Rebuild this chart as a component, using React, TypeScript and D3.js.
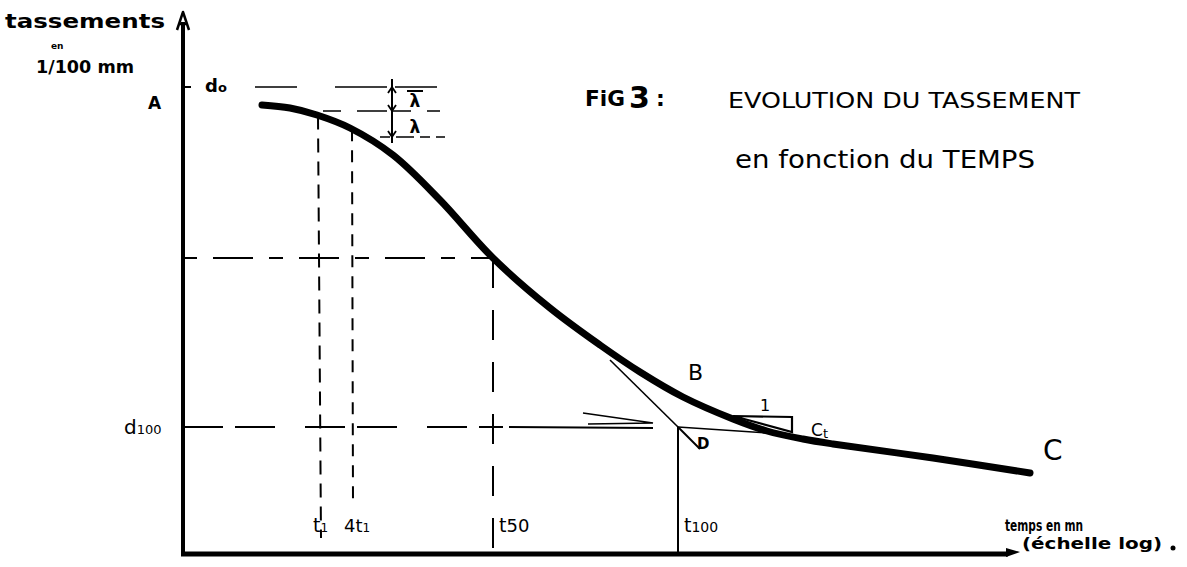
import React from "react";
import * as d3 from "d3";

const W = 1187;
const H = 567;

// Consolidation curve: position along the log-time axis and settlement reading (1/100 mm)
const curveT = [0.79, 1.07, 1.34, 1.67, 2.1, 2.57, 3.1, 3.67, 4.17, 4.57, 5.0, 5.5, 5.84, 6.2, 6.5, 7.5, 8.47];
const curveD = [449, 446, 439, 426, 399, 354, 296, 246, 209, 182, 157, 135, 123, 115, 110, 96, 81];

// Characteristic times on the log axis
const timeKeys = ["t1", "4t1", "t50", "t100"];
const timeVals = [1.35, 1.69, 3.1, 4.95];

// Characteristic settlements
const D0 = 467;
const DT1 = 443;
const DT4 = 417;
const D50 = 296;
const D100 = 127;

// Tangents used to locate D (end of primary consolidation)
const steepTangent: [number, number][] = [
  [4.27, 194],
  [4.95, 127],
];
const flatTangent: [number, number][] = [
  [4.95, 127],
  [5.85, 121],
];
// Slope triangle for the secondary compression coefficient
const slopeTri: [number, number][] = [
  [5.5, 138],
  [6.09, 137],
  [6.09, 122],
];

const FONT = "'DejaVu Sans', sans-serif";

export default function App() {
  const x = d3.scaleLinear().domain([0, 8.4]).range([183, 1023]);
  const y = d3.scaleLinear().domain([0, 540]).range([554, 14]);

  const pts: [number, number][] = curveT.map((t, i) => [t, curveD[i]]);
  const curvePath = d3
    .line<[number, number]>()
    .x((d) => x(d[0]))
    .y((d) => y(d[1]))
    .curve(d3.curveCatmullRom.alpha(0.5))(pts) as string;

  const seg = d3
    .line<[number, number]>()
    .x((d) => x(d[0]))
    .y((d) => y(d[1]));

  const [t1, t4, t50, t100] = timeVals;
  const interpD = (t: number) => {
    const s = d3.scaleLinear().domain(curveT).range(curveD);
    return s(t);
  };

  const axisX0 = x(0);
  const axisY0 = y(0);
  const lamX = x(2.09);

  return (
    <svg
      width={W}
      height={H}
      style={{ position: "fixed", left: 0, top: 0, background: "#fff" }}
      fontFamily={FONT}
    >
      <rect width={W} height={H} fill="#fff" />

      {/* axes */}
      <line x1={axisX0} y1={axisY0 + 2} x2={axisX0} y2={22} stroke="#000" strokeWidth={4} />
      <path
        d={`M${axisX0 - 6},30 L${axisX0},12 L${axisX0 + 6},30 M${axisX0 - 4},24 L${axisX0 + 4},24`}
        fill="none"
        stroke="#000"
        strokeWidth={2.5}
        strokeLinejoin="round"
      />
      <line x1={axisX0 - 2} y1={axisY0} x2={1008} y2={axisY0} stroke="#000" strokeWidth={5} />
      <path d={`M1006,${axisY0 - 6} L1020,${axisY0 - 2} L1006,${axisY0 + 3} Z`} fill="#000" />

      {/* d0 tick on the ordinate */}
      <line x1={axisX0} y1={y(D0)} x2={axisX0 + 8} y2={y(D0)} stroke="#000" strokeWidth={2} />

      {/* construction of d0 with the two λ intervals */}
      <line x1={x(0.72)} y1={y(D0)} x2={x(2.77)} y2={y(D0)} stroke="#000" strokeWidth={1.5} strokeDasharray="42 38 52 8" />
      <line x1={x(1.4)} y1={y(DT1)} x2={x(2.57)} y2={y(DT1)} stroke="#000" strokeWidth={1.5} strokeDasharray="18 16 30 6" />
      <line x1={x(1.97)} y1={y(DT4)} x2={x(2.62)} y2={y(DT4)} stroke="#000" strokeWidth={1.5} strokeDasharray="10 6 18 6" />
      <line x1={lamX} y1={y(D0) - 8} x2={lamX} y2={y(DT4) + 6} stroke="#000" strokeWidth={2} />
      <path
        d={`M${lamX - 4},${y(D0) + 6} L${lamX},${y(D0)} L${lamX + 4},${y(D0) + 6}
            M${lamX - 4},${y(DT1) - 6} L${lamX},${y(DT1)} L${lamX + 4},${y(DT1) - 6}
            M${lamX - 4},${y(DT4) - 6} L${lamX},${y(DT4)} L${lamX + 4},${y(DT4) - 6}`}
        fill="none"
        stroke="#000"
        strokeWidth={1.8}
      />
      <text x={x(2.32)} y={y(DT1) - 4} fontSize={17} fontWeight="bold" textAnchor="middle">λ</text>
      <text x={x(2.32)} y={y(DT4) - 4} fontSize={17} fontWeight="bold" textAnchor="middle">λ</text>
      <line x1={x(2.24)} y1={y(D0) + 4} x2={x(2.4)} y2={y(D0) + 4} stroke="#000" strokeWidth={2} />

      {/* verticals at t1 and 4t1 */}
      <line x1={x(t1)} y1={y(interpD(t1))} x2={x(t1) + 3} y2={axisY0 - 16} stroke="#000" strokeWidth={2} strokeDasharray="14 9" />
      <line x1={x(t4)} y1={y(interpD(t4))} x2={x(t4) + 1} y2={axisY0 - 50} stroke="#000" strokeWidth={2} strokeDasharray="12 9" />

      {/* t50 / d50 construction */}
      <line x1={axisX0} y1={y(D50)} x2={x(t50)} y2={y(D50)} stroke="#000" strokeWidth={2} strokeDasharray="14 16 40 16" />
      <line x1={x(t50)} y1={y(D50)} x2={x(t50)} y2={axisY0} stroke="#000" strokeWidth={2} strokeDasharray="30 22" />

      {/* d100 line running to D */}
      <line x1={axisX0} y1={y(D100)} x2={x(3.2)} y2={y(D100)} stroke="#000" strokeWidth={2} strokeDasharray="40 12 40 30" />
      <line x1={x(3.26)} y1={y(D100)} x2={x(4.7)} y2={y(D100) + 1} stroke="#000" strokeWidth={2} />
      <path
        d={`M${x(4.0)},${y(D100) - 14} L${x(4.7)},${y(D100) - 4} L${x(4.05)},${y(D100) - 3}`}
        fill="none"
        stroke="#000"
        strokeWidth={1.6}
      />

      {/* tangents and D */}
      <path d={seg(steepTangent) as string} stroke="#000" strokeWidth={1.6} fill="none" />
      <path d={seg(flatTangent) as string} stroke="#000" strokeWidth={1.6} fill="none" />
      <line x1={x(t100)} y1={y(D100)} x2={x(t100)} y2={axisY0} stroke="#000" strokeWidth={2} />
      <line x1={x(t100)} y1={y(D100)} x2={x(t100) + 22} y2={y(D100) + 22} stroke="#000" strokeWidth={2} />
      <text x={x(t100) + 19} y={y(D100) + 22} fontSize={15} fontWeight="bold">D</text>

      {/* slope triangle */}
      <path d={(seg(slopeTri) as string) + "Z"} fill="none" stroke="#000" strokeWidth={2.2} />
      <text x={x(5.82)} y={y(143)} fontSize={16} textAnchor="middle">1</text>
      <text x={x(6.28)} y={y(118)} fontSize={17}>C<tspan fontSize={13} dy={2}>t</tspan></text>

      {/* settlement curve */}
      <path d={curvePath} fill="none" stroke="#000" strokeWidth={7} strokeLinecap="round" strokeLinejoin="round" />

      {/* point labels */}
      <text x={148} y={y(D0) + 22} fontSize={17} fontWeight="bold">A</text>
      <text x={x(5.05)} y={y(174)} fontSize={22}>B</text>
      <text x={x(8.6)} y={y(94)} fontSize={28}>C</text>
      <text x={205} y={y(D0) + 5} fontSize={18} fontWeight="bold">d<tspan fontSize={13}>o</tspan></text>
      <text x={124} y={y(D100) + 7} fontSize={20}>d<tspan fontSize={13}>100</tspan></text>

      {/* characteristic time labels */}
      {timeKeys.map((k, i) => {
        const tx = x(timeVals[i]);
        const base = axisY0 - 22;
        if (k === "t1")
          return (
            <text key={k} x={tx - 5} y={base} fontSize={19}>t<tspan fontSize={12}>1</tspan></text>
          );
        if (k === "4t1")
          return (
            <text key={k} x={tx - 8} y={base} fontSize={18}>4t<tspan fontSize={12}>1</tspan></text>
          );
        return (
          <text key={k} x={tx + 6} y={base} fontSize={19}>t<tspan fontSize={k === "t50" ? 18 : 14}>{k.slice(1)}</tspan></text>
        );
      })}

      {/* axis titles */}
      <text x={5} y={28} fontSize={20} fontWeight="900" textLength={160} lengthAdjust="spacingAndGlyphs">tassements</text>
      <text x={51} y={49} fontSize={9} fontWeight="bold">en</text>
      <text x={36} y={73} fontSize={17} fontWeight="900" textLength={98} lengthAdjust="spacingAndGlyphs">1/100 mm</text>
      <text x={1005} y={531} fontSize={15} fontWeight="900" textLength={78} lengthAdjust="spacingAndGlyphs">temps en mn</text>
      <text x={1022} y={549} fontSize={16} fontWeight="900" textLength={140} lengthAdjust="spacingAndGlyphs">(échelle log)</text>
      <circle cx={1173} cy={548} r={2.5} fill="#000" />

      {/* figure title */}
      <text x={585} y={106} fontSize={21} fontWeight="900" textLength={40} lengthAdjust="spacingAndGlyphs">FiG</text>
      <text x={629} y={108} fontSize={30} fontWeight="900">3</text>
      <text x={656} y={106} fontSize={22} fontWeight="900">:</text>
      <text x={728} y={108} fontSize={22} textLength={352} lengthAdjust="spacingAndGlyphs">EVOLUTION DU TASSEMENT</text>
      <text x={735} y={168} fontSize={24} textLength={300} lengthAdjust="spacingAndGlyphs">en fonction du TEMPS</text>
    </svg>
  );
}
